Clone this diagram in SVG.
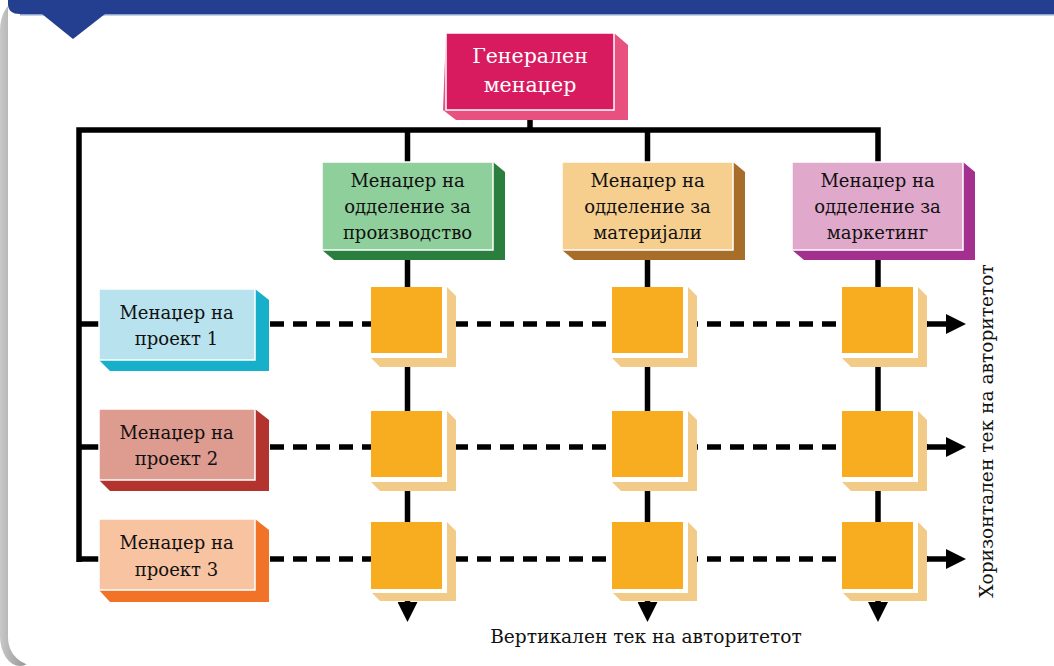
<svg xmlns="http://www.w3.org/2000/svg" width="1054" height="666" viewBox="0 0 1054 666">
<defs>
<linearGradient id="edge" x1="0" y1="0" x2="1" y2="0">
<stop offset="0" stop-color="#c8c8c8"/><stop offset="0.6" stop-color="#9a9a9a"/><stop offset="1" stop-color="#bdbdbd"/>
</linearGradient>
<marker id="ah" viewBox="0 0 20 20" refX="2" refY="10" markerWidth="20" markerHeight="20" markerUnits="userSpaceOnUse" orient="auto"><path d="M0,0 L20,10 L0,20 Z" fill="#000"/></marker>
</defs>
<style>
.t{font-family:"DejaVu Serif","Liberation Serif",serif;font-size:18px;fill:#111;text-anchor:middle}
.tw{font-family:"DejaVu Serif","Liberation Serif",serif;font-size:20.5px;fill:#fff;text-anchor:middle}
.lbl{font-family:"DejaVu Serif","Liberation Serif",serif;font-size:18.6px;fill:#111}
.front{stroke:#fff;stroke-width:1.5}
.ln{fill:none;stroke:#000;stroke-width:5.5}
.dash{fill:none;stroke:#000;stroke-width:5.5;stroke-dasharray:14 9}
.sq{fill:#F8AC20}
.sqs{fill:#F2CB88}
</style>
<rect x="0" y="0" width="1054" height="666" fill="#fff"/>
<rect x="0" y="0" width="40" height="666" rx="30" fill="url(#edge)"/>
<rect x="8" y="-40" width="1060" height="706" rx="28" fill="#fff"/>
<path d="M8,0 H1054 V14 H20 Q8,14 8,4 Z" fill="#243F8F"/>
<rect x="20" y="14" width="1034" height="1.5" fill="#8FA5D0"/>
<polygon points="42,14 105,14 73,39" fill="#243F8F"/>

<g id="connectors">
<path class="ln" d="M79,562 V130 H878 V162"/>
<path class="ln" d="M530,118 V130"/>
<path class="ln" d="M407.5,130 V162"/>
<path class="ln" d="M647.5,130 V162"/>
<path class="ln" d="M79,324 H99 M79,447 H99 M79,559 H99"/>
<path class="ln" d="M407.5,258 V604" marker-end="url(#ah)"/>
<path class="ln" d="M647.5,258 V604" marker-end="url(#ah)"/>
<path class="ln" d="M878,258 V604" marker-end="url(#ah)"/>
<path class="dash" d="M270,324 H928 M270,447 H928 M270,559 H928"/>
<path class="ln" d="M920,324 H948" marker-end="url(#ah)"/>
<path class="ln" d="M920,447 H948" marker-end="url(#ah)"/>
<path class="ln" d="M920,559 H948" marker-end="url(#ah)"/>
</g>

<g id="gm">
<polygon points="446,33 614,33 628,45 628,120 456,120 443,110" fill="#E8507F"/>
<rect class="front" x="446" y="33" width="168" height="77" fill="#D81B5F"/>
<text class="tw" x="530" y="63">Генерален</text>
<text class="tw" x="530" y="92">менаџер</text>
</g>

<g id="dept-production">
<polygon points="322,162 493,162 505,172 505,260 334,260 322,250" fill="#2B7F3E"/>
<rect class="front" x="322" y="162" width="171" height="88" fill="#8FCF9B"/>
<text class="t" x="407.5" y="187">Менаџер на</text>
<text class="t" x="407.5" y="213">одделение за</text>
<text class="t" x="407.5" y="239">производство</text>
</g>
<g id="dept-materials">
<polygon points="562,162 733,162 745,172 745,260 574,260 562,250" fill="#A86D28"/>
<rect class="front" x="562" y="162" width="171" height="88" fill="#F6CE8E"/>
<text class="t" x="647.5" y="187">Менаџер на</text>
<text class="t" x="647.5" y="213">одделение за</text>
<text class="t" x="647.5" y="239">материјали</text>
</g>
<g id="dept-marketing">
<polygon points="792,162 963,162 975,172 975,260 804,260 792,250" fill="#A3308E"/>
<rect class="front" x="792" y="162" width="171" height="88" fill="#E0A9CC"/>
<text class="t" x="877.5" y="187">Менаџер на</text>
<text class="t" x="877.5" y="213">одделение за</text>
<text class="t" x="877.5" y="239">маркетинг</text>
</g>

<g id="project-1">
<polygon points="99,289 255,289 269,300 269,371 110,371 99,360" fill="#17AFC9"/>
<rect class="front" x="99" y="289" width="156" height="71" fill="#B7E2EE"/>
<text class="t" x="176.5" y="319">Менаџер на</text>
<text class="t" x="176.5" y="345">проект 1</text>
</g>
<g id="project-2">
<polygon points="99,409 255,409 269,420 269,491 110,491 99,480" fill="#B3332F"/>
<rect class="front" x="99" y="409" width="156" height="71" fill="#DE9B8F"/>
<text class="t" x="176.5" y="439">Менаџер на</text>
<text class="t" x="176.5" y="465">проект 2</text>
</g>
<g id="project-3">
<polygon points="99,519 255,519 269,530 269,602 110,602 99,590" fill="#F07328"/>
<rect class="front" x="99" y="519" width="156" height="71" fill="#F8C3A1"/>
<text class="t" x="176.5" y="549">Менаџер на</text>
<text class="t" x="176.5" y="576">проект 3</text>
</g>

<g id="squares">
<g id="sq-1-1"><polygon class="sqs" points="371,287 447,287 456,296 456,367 380,367 371,358"/><rect x="371" y="287" width="76" height="71" fill="#fff"/><rect class="sq" x="371" y="287" width="71" height="66"/></g>
<g id="sq-1-2"><polygon class="sqs" points="612,287 688,287 697,296 697,367 621,367 612,358"/><rect x="612" y="287" width="76" height="71" fill="#fff"/><rect class="sq" x="612" y="287" width="71" height="66"/></g>
<g id="sq-1-3"><polygon class="sqs" points="842,287 918,287 927,296 927,367 851,367 842,358"/><rect x="842" y="287" width="76" height="71" fill="#fff"/><rect class="sq" x="842" y="287" width="71" height="66"/></g>
<g id="sq-2-1"><polygon class="sqs" points="371,411 447,411 456,420 456,491 380,491 371,482"/><rect x="371" y="411" width="76" height="71" fill="#fff"/><rect class="sq" x="371" y="411" width="71" height="66"/></g>
<g id="sq-2-2"><polygon class="sqs" points="612,411 688,411 697,420 697,491 621,491 612,482"/><rect x="612" y="411" width="76" height="71" fill="#fff"/><rect class="sq" x="612" y="411" width="71" height="66"/></g>
<g id="sq-2-3"><polygon class="sqs" points="842,411 918,411 927,420 927,491 851,491 842,482"/><rect x="842" y="411" width="76" height="71" fill="#fff"/><rect class="sq" x="842" y="411" width="71" height="66"/></g>
<g id="sq-3-1"><polygon class="sqs" points="371,522 447,522 456,531 456,601 380,601 371,592"/><rect x="371" y="522" width="76" height="71" fill="#fff"/><rect class="sq" x="371" y="522" width="71" height="67"/></g>
<g id="sq-3-2"><polygon class="sqs" points="612,522 688,522 697,531 697,601 621,601 612,592"/><rect x="612" y="522" width="76" height="71" fill="#fff"/><rect class="sq" x="612" y="522" width="71" height="67"/></g>
<g id="sq-3-3"><polygon class="sqs" points="842,522 918,522 927,531 927,601 851,601 842,592"/><rect x="842" y="522" width="76" height="71" fill="#fff"/><rect class="sq" x="842" y="522" width="71" height="67"/></g>
</g>

<text class="lbl" x="646" y="643" text-anchor="middle">Вертикален тек на авторитетот</text>
<text class="lbl" transform="translate(993,431) rotate(-90)" x="0" y="0" text-anchor="middle">Хоризонтален тек на авторитетот</text>
</svg>
